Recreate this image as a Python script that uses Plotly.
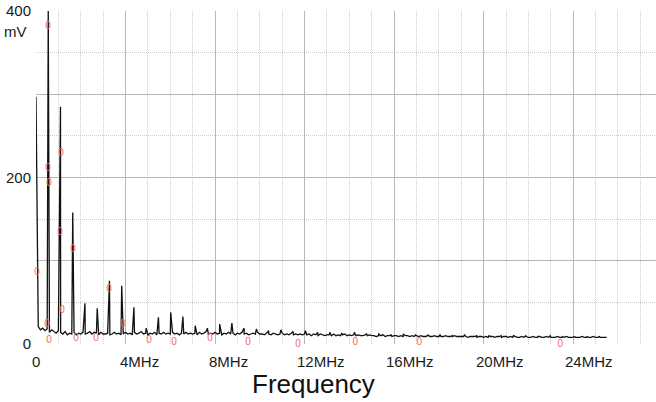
import numpy as np
import plotly.graph_objects as go

# ---- data ----
# noise floor samples every 0.1 MHz, from 0.1 MHz to 25.5 MHz (mV)
noise_mv = [
    21, 17, 19, 16, 18, 14, 17, 15, 13, 16,
    14, 12, 15, 11, 13, 12, 14, 11, 13, 12,
    14, 12, 13, 15, 12, 14, 13, 11, 14, 12,
    12, 13, 11, 12, 14, 12, 13, 11, 12, 14,
    12, 13, 11, 14, 12, 13, 15, 12, 13, 11,
    13, 12, 14, 11, 13, 12, 14, 12, 13, 12,
    14, 12, 13, 11, 13, 12, 14, 12, 13, 12,
    13, 11, 14, 12, 13, 15, 12, 13, 12, 14,
    12, 13, 11, 13, 12, 14, 12, 13, 11, 13,
    12, 14, 12, 13, 11, 12, 13, 12, 14, 12,
    12, 11, 13, 12, 11, 13, 12, 11, 12, 13,
    11, 12, 11, 13, 11, 12, 11, 12, 11, 12,
    11, 12, 10, 12, 11, 10, 12, 11, 10, 11,
    11, 10, 12, 10, 11, 10, 11, 12, 10, 11,
    10, 11, 10, 11, 10, 10, 11, 10, 11, 10,
    10, 9, 10, 10, 11, 9, 10, 10, 9, 10,
    10, 9, 10, 9, 10, 10, 9, 10, 9, 10,
    9, 10, 9, 9, 10, 9, 9, 10, 9, 9,
    9, 9, 10, 9, 9, 9, 10, 9, 9, 9,
    9, 9, 8, 9, 9, 9, 8, 9, 9, 8,
    9, 8, 9, 9, 8, 9, 9, 8, 9, 9,
    8, 9, 8, 9, 8, 8, 9, 8, 9, 8,
    8, 9, 8, 8, 9, 8, 8, 9, 8, 8,
    8, 8, 9, 8, 8, 8, 9, 8, 8, 8,
    8, 8, 8, 9, 8, 8, 8, 8, 9, 8,
    8, 8, 8, 8, 8,
]
noise_freq = np.round(np.arange(1, len(noise_mv) + 1) * 0.1, 2)

# harmonic peaks (MHz, mV)
peak_freq = [0.0, 0.547, 1.094, 1.641, 2.188, 2.735, 3.282, 3.829, 4.376, 4.923,
             5.47, 6.017, 6.564, 7.111, 7.658, 8.205, 8.752, 9.299, 9.846, 10.393,
             10.94, 11.487, 12.034, 12.581, 13.128, 13.675, 14.222, 14.769, 15.316,
             15.863, 16.41, 16.957, 17.504, 18.051, 18.598, 19.145, 19.692, 20.239,
             20.786, 21.333, 21.88, 22.427, 22.974, 23.521, 24.068, 24.615, 25.162]
peak_mv = [297, 400, 285, 158, 49, 43, 76, 70, 44, 19,
           32, 38, 33, 22, 19, 24, 25, 19, 18, 16,
           17, 15, 16, 14, 14, 13, 14, 12, 12,
           11, 12, 11, 11, 11, 10, 11, 10, 10,
           10, 10, 10, 9, 10, 9, 9, 9, 9]

# small red "0" marks scattered on the picture (MHz, mV)
mark_freq = [0.54, 0.54, 0.58, 1.12, 0.04, 1.07, 1.65, 3.26, 1.16, 0.49, 3.89,
             0.58, 1.79, 2.68, 5.05, 6.17, 7.78, 9.47, 11.71, 14.26, 17.12, 23.42]
mark_mv = [381, 211, 193, 229, 86, 134, 114, 66, 40, 24, 24,
           4, 7, 7, 4, 2, 7, 2, 0, 2, 2, 0]

x_tick_vals = [0, 4, 8, 12, 16, 20, 24]
x_tick_text = ["0", "4MHz", "8MHz", "12MHz", "16MHz", "20MHz", "24MHz"]
y_tick_vals = [0, 100, 200, 300, 400]
y_tick_text = ["0", "", "200", "", "400"]

# merge peaks into the noise floor, sorted by frequency
all_f = np.concatenate([noise_freq, np.array(peak_freq)])
all_v = np.concatenate([np.array(noise_mv, float), np.array(peak_mv, float)])
order = np.argsort(all_f, kind="stable")
freq = all_f[order]
mv = all_v[order]

FONT = "Liberation Sans, Arial, sans-serif"
TXT = "#1a1a1a"

fig = go.Figure()
fig.add_trace(go.Scatter(
    x=freq, y=mv, mode="lines",
    line=dict(color="#111111", width=1.3),
    hoverinfo="skip", showlegend=False,
))
fig.add_trace(go.Scatter(
    x=mark_freq, y=mark_mv, mode="text", text=["0"] * len(mark_freq),
    textfont=dict(color="#f06a6a", size=10, family=FONT),
    hoverinfo="skip", showlegend=False, cliponaxis=False,
))

annotations = []
for v, t in zip(x_tick_vals, x_tick_text):
    if v == 0:
        annotations.append(dict(x=v, y=-0.054, xref="x", yref="paper", text=t,
                                showarrow=False, xanchor="center", yanchor="middle",
                                font=dict(family=FONT, size=15, color=TXT)))
    else:
        ndig = len(str(v))
        annotations.append(dict(x=v, y=-0.054, xref="x", yref="paper", text=t,
                                showarrow=False, xanchor="left", yanchor="middle",
                                xshift=-8 if ndig == 1 else -10,
                                font=dict(family=FONT, size=15, color=TXT)))
annotations.append(dict(x=-0.0145, y=0.937, xref="paper", yref="paper", text="mV",
                        showarrow=False, xanchor="right", yanchor="middle", xshift=2,
                        font=dict(family=FONT, size=15, color=TXT)))
annotations.append(dict(x=0.448, y=-0.12, xref="paper", yref="paper", text="Frequency",
                        showarrow=False, xanchor="center", yanchor="middle",
                        font=dict(family=FONT, size=26, color="#111111")))

fig.update_layout(
    width=656, height=402,
    margin=dict(l=36, r=0, t=11, b=58),
    paper_bgcolor="white", plot_bgcolor="white",
    font=dict(family=FONT, size=15, color=TXT),
    annotations=annotations,
    xaxis=dict(
        range=[0, 27.7], tickvals=x_tick_vals, showticklabels=False,
        showgrid=True, gridcolor="#b8b8b8", gridwidth=1, automargin=False,
        minor=dict(dtick=1, tick0=0, showgrid=True, gridcolor="#cccccc",
                   griddash="1px,1px", gridwidth=1),
        zeroline=False, showline=False, ticks="",
    ),
    yaxis=dict(
        range=[0, 400], tickvals=y_tick_vals, ticktext=y_tick_text,
        showgrid=True, gridcolor="#b8b8b8", gridwidth=1, automargin=False,
        minor=dict(dtick=50, tick0=0, showgrid=True, gridcolor="#cccccc",
                   griddash="1px,1px", gridwidth=1),
        zeroline=False, showline=False, ticks="", ticklabelstandoff=4,
        tickfont=dict(family=FONT, size=15, color=TXT),
    ),
)

fig.write_html(
    "out.html",
    config={"displayModeBar": False},
    post_script="document.body.style.margin='0';document.body.style.overflow='hidden';",
)
